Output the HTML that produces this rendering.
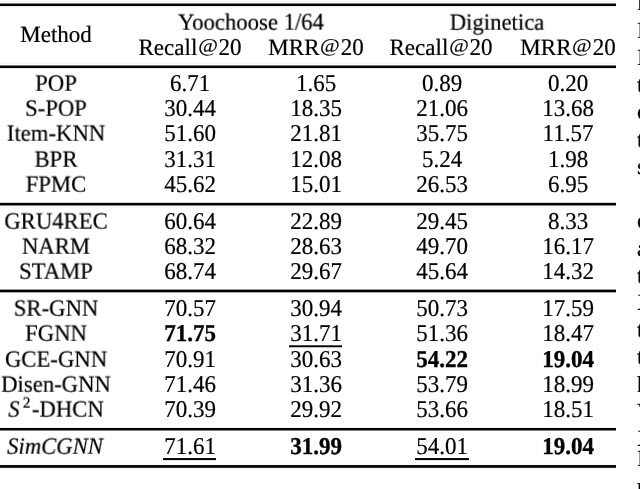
<!DOCTYPE html>
<html><head><meta charset="utf-8"><title>Table</title>
<style>
html,body{margin:0;padding:0;background:#fff;width:640px;height:489px;overflow:hidden;}
#p{width:640px;height:489px;position:relative;overflow:hidden;background:#fff;
 font-family:"Liberation Serif",serif;font-size:23px;line-height:23px;color:#000;text-rendering:geometricPrecision;-webkit-text-stroke:0.2px #000;}
.t{position:absolute;white-space:nowrap;transform:translateX(-50%) scale(1,1.05);transform-origin:50% 19.26px;will-change:transform;}
.l{transform:translateX(-50%) scale(1,1.015);}
.w{transform:translateX(-50%) scale(0.987,1.015);}
.e{position:absolute;white-space:nowrap;will-change:transform;}
.r{position:absolute;background:#000;}
b{font-weight:bold;-webkit-text-stroke:0.35px #000;}
.a{display:inline-block;transform:scale(0.93,0.835);transform-origin:50% 0;}
.d{display:inline-block;transform:scaleY(1.03448);transform-origin:50% 19.26px;}
sup{font-size:15.5px;line-height:0;vertical-align:baseline;position:relative;top:-9px;margin-left:3.3px;margin-right:1.4px;}
</style></head><body><div id="p">

<div class="r" style="left:0px;top:1px;width:616px;height:1px;background:#f5f5f5"></div>
<div class="r" style="left:0px;top:3px;width:616px;height:1px;background:#808080"></div>
<div class="r" style="left:0px;top:4px;width:616px;height:1px;background:#000000"></div>
<div class="r" style="left:0px;top:5px;width:616px;height:1px;background:#000000"></div>
<div class="r" style="left:0px;top:6px;width:616px;height:1px;background:#e6e6e6"></div>
<div class="r" style="left:0px;top:63px;width:616px;height:1px;background:#f7f7f7"></div>
<div class="r" style="left:0px;top:65px;width:616px;height:1px;background:#808080"></div>
<div class="r" style="left:0px;top:66px;width:616px;height:1px;background:#000000"></div>
<div class="r" style="left:0px;top:67px;width:616px;height:1px;background:#000000"></div>
<div class="r" style="left:0px;top:68px;width:616px;height:1px;background:#e6e6e6"></div>
<div class="r" style="left:0px;top:202px;width:616px;height:1px;background:#d9d9d9"></div>
<div class="r" style="left:0px;top:203px;width:616px;height:1px;background:#000000"></div>
<div class="r" style="left:0px;top:204px;width:616px;height:1px;background:#000000"></div>
<div class="r" style="left:0px;top:205px;width:616px;height:1px;background:#808080"></div>
<div class="r" style="left:0px;top:207px;width:616px;height:1px;background:#f7f7f7"></div>
<div class="r" style="left:0px;top:289px;width:616px;height:1px;background:#999999"></div>
<div class="r" style="left:0px;top:290px;width:616px;height:1px;background:#000000"></div>
<div class="r" style="left:0px;top:291px;width:616px;height:1px;background:#000000"></div>
<div class="r" style="left:0px;top:292px;width:616px;height:1px;background:#a6a6a6"></div>
<div class="r" style="left:0px;top:427px;width:616px;height:1px;background:#f2f2f2"></div>
<div class="r" style="left:0px;top:428px;width:616px;height:1px;background:#000000"></div>
<div class="r" style="left:0px;top:429px;width:616px;height:1px;background:#000000"></div>
<div class="r" style="left:0px;top:430px;width:616px;height:1px;background:#808080"></div>
<div class="r" style="left:0px;top:464px;width:616px;height:1px;background:#f7f7f7"></div>
<div class="r" style="left:0px;top:465px;width:616px;height:1px;background:#191919"></div>
<div class="r" style="left:0px;top:466px;width:616px;height:1px;background:#000000"></div>
<div class="r" style="left:0px;top:467px;width:616px;height:1px;background:#333333"></div>
<div class="r" style="left:0px;top:468px;width:616px;height:1px;background:#f2f2f2"></div>
<div class="r" style="left:289px;top:345px;width:53px;height:1px;background:#4d4d4d"></div>
<div class="r" style="left:289px;top:346px;width:53px;height:1px;background:#000000"></div>
<div class="r" style="left:289px;top:347px;width:53px;height:1px;background:#bfbfbf"></div>
<div class="r" style="left:163px;top:458px;width:53px;height:1px;background:#0d0d0d"></div>
<div class="r" style="left:163px;top:459px;width:53px;height:1px;background:#000000"></div>
<div class="r" style="left:163px;top:460px;width:53px;height:1px;background:#e6e6e6"></div>
<div class="r" style="left:415px;top:458px;width:54px;height:1px;background:#0d0d0d"></div>
<div class="r" style="left:415px;top:459px;width:54px;height:1px;background:#000000"></div>
<div class="r" style="left:415px;top:460px;width:54px;height:1px;background:#e6e6e6"></div>
<div class="t l" style="left:56px;top:22.94px">Method</div>
<div class="t w" style="left:251px;top:10.84px">Yoochoose <span class=d>1/64</span></div>
<div class="t w" style="left:496.8px;top:10.84px">Diginetica</div>
<div class="t l" style="left:189.8px;top:35.74px">Recall<span class=a>@</span><span class=d>20</span></div>
<div class="t l" style="left:316px;top:35.74px">MRR<span class=a>@</span><span class=d>20</span></div>
<div class="t l" style="left:441.4px;top:35.74px">Recall<span class=a>@</span><span class=d>20</span></div>
<div class="t l" style="left:568px;top:35.74px">MRR<span class=a>@</span><span class=d>20</span></div>
<div class="t w" style="left:56px;top:71.99px">POP</div>
<div class="t" style="left:189.7px;top:71.99px">6.71</div>
<div class="t" style="left:315.9px;top:71.99px">1.65</div>
<div class="t" style="left:441.5px;top:71.99px">0.89</div>
<div class="t" style="left:567.7px;top:71.99px">0.20</div>
<div class="t w" style="left:56px;top:97.34px">S-POP</div>
<div class="t" style="left:189.7px;top:97.34px">30.44</div>
<div class="t" style="left:315.9px;top:97.34px">18.35</div>
<div class="t" style="left:441.5px;top:97.34px">21.06</div>
<div class="t" style="left:567.7px;top:97.34px">13.68</div>
<div class="t w" style="left:56px;top:122.44px">Item-KNN</div>
<div class="t" style="left:189.7px;top:122.44px">51.60</div>
<div class="t" style="left:315.9px;top:122.44px">21.81</div>
<div class="t" style="left:441.5px;top:122.44px">35.75</div>
<div class="t" style="left:567.7px;top:122.44px">11.57</div>
<div class="t w" style="left:56px;top:147.54px">BPR</div>
<div class="t" style="left:189.7px;top:147.54px">31.31</div>
<div class="t" style="left:315.9px;top:147.54px">12.08</div>
<div class="t" style="left:441.5px;top:147.54px">5.24</div>
<div class="t" style="left:567.7px;top:147.54px">1.98</div>
<div class="t w" style="left:56px;top:172.74px">FPMC</div>
<div class="t" style="left:189.7px;top:172.74px">45.62</div>
<div class="t" style="left:315.9px;top:172.74px">15.01</div>
<div class="t" style="left:441.5px;top:172.74px">26.53</div>
<div class="t" style="left:567.7px;top:172.74px">6.95</div>
<div class="t w" style="left:56px;top:209.74px">GRU<span class=d>4</span>REC</div>
<div class="t" style="left:189.7px;top:209.74px">60.64</div>
<div class="t" style="left:315.9px;top:209.74px">22.89</div>
<div class="t" style="left:441.5px;top:209.74px">29.45</div>
<div class="t" style="left:567.7px;top:209.74px">8.33</div>
<div class="t w" style="left:56px;top:234.94px">NARM</div>
<div class="t" style="left:189.7px;top:234.94px">68.32</div>
<div class="t" style="left:315.9px;top:234.94px">28.63</div>
<div class="t" style="left:441.5px;top:234.94px">49.70</div>
<div class="t" style="left:567.7px;top:234.94px">16.17</div>
<div class="t w" style="left:56px;top:260.14px">STAMP</div>
<div class="t" style="left:189.7px;top:260.14px">68.74</div>
<div class="t" style="left:315.9px;top:260.14px">29.67</div>
<div class="t" style="left:441.5px;top:260.14px">45.64</div>
<div class="t" style="left:567.7px;top:260.14px">14.32</div>
<div class="t w" style="left:56px;top:297.14px">SR-GNN</div>
<div class="t" style="left:189.7px;top:297.14px">70.57</div>
<div class="t" style="left:315.9px;top:297.14px">30.94</div>
<div class="t" style="left:441.5px;top:297.14px">50.73</div>
<div class="t" style="left:567.7px;top:297.14px">17.59</div>
<div class="t w" style="left:56px;top:322.14px">FGNN</div>
<div class="t" style="left:189.7px;top:322.14px"><b>71.75</b></div>
<div class="t" style="left:315.9px;top:322.14px">31.71</div>
<div class="t" style="left:441.5px;top:322.14px">51.36</div>
<div class="t" style="left:567.7px;top:322.14px">18.47</div>
<div class="t w" style="left:56px;top:347.54px">GCE-GNN</div>
<div class="t" style="left:189.7px;top:347.54px">70.91</div>
<div class="t" style="left:315.9px;top:347.54px">30.63</div>
<div class="t" style="left:441.5px;top:347.54px"><b>54.22</b></div>
<div class="t" style="left:567.7px;top:347.54px"><b>19.04</b></div>
<div class="t w" style="left:56px;top:372.74px">Disen-GNN</div>
<div class="t" style="left:189.7px;top:372.74px">71.46</div>
<div class="t" style="left:315.9px;top:372.74px">31.36</div>
<div class="t" style="left:441.5px;top:372.74px">53.79</div>
<div class="t" style="left:567.7px;top:372.74px">18.99</div>
<div class="t w" style="left:56px;top:397.94px"><i>S</i><sup>2</sup>-DHCN</div>
<div class="t" style="left:189.7px;top:397.94px">70.39</div>
<div class="t" style="left:315.9px;top:397.94px">29.92</div>
<div class="t" style="left:441.5px;top:397.94px">53.66</div>
<div class="t" style="left:567.7px;top:397.94px">18.51</div>
<div class="t w" style="left:55.3px;top:434.74px"><i>SimCGNN</i></div>
<div class="t" style="left:189.7px;top:434.74px">71.61</div>
<div class="t" style="left:315.9px;top:434.74px"><b>31.99</b></div>
<div class="t" style="left:441.5px;top:434.74px">54.01</div>
<div class="t" style="left:567.7px;top:434.74px"><b>19.04</b></div>
<div class="e" style="left:636.6px;top:-9.06px">l</div>
<div class="e" style="left:637px;top:18.74px">I</div>
<div class="e" style="left:637px;top:45.74px">I</div>
<div class="e" style="left:637px;top:73.04px">t</div>
<div class="e" style="left:637px;top:100.24px">c</div>
<div class="e" style="left:637px;top:127.54px">t</div>
<div class="e" style="left:637px;top:154.74px">s</div>
<div class="e" style="left:637px;top:209.34px">c</div>
<div class="e" style="left:637px;top:236.74px">a</div>
<div class="e" style="left:637px;top:263.74px">t</div>
<div class="e" style="left:637px;top:290.74px">X</div>
<div class="e" style="left:637px;top:318.24px">t</div>
<div class="e" style="left:637px;top:345.24px">t</div>
<div class="e" style="left:637px;top:372.74px">h</div>
<div class="e" style="left:637px;top:400.04px">V</div>
<div class="e" style="left:637px;top:427.24px">X</div>
<div class="e" style="left:637px;top:446.74px">I</div>
<div class="e" style="left:637px;top:480.24px">h</div>
</div></body></html>
